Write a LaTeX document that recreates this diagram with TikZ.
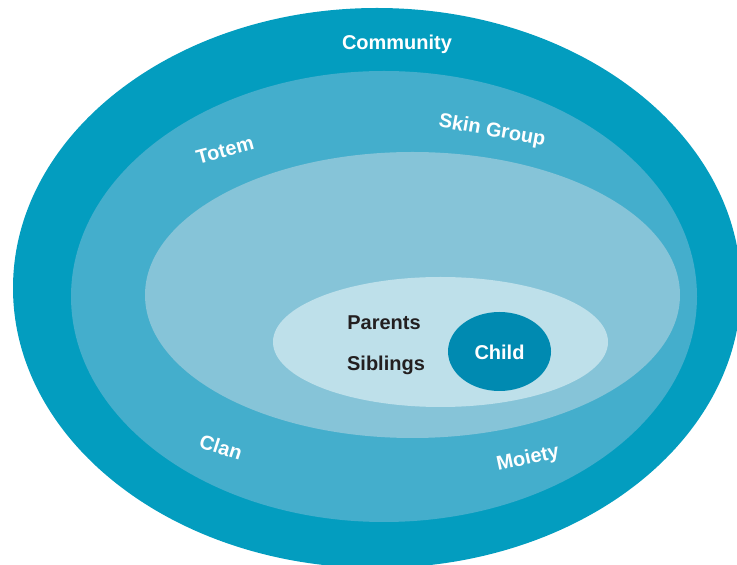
\documentclass[tikz,border=0pt]{standalone}
\usepackage{fontspec}
\setmainfont{Liberation Sans}
\usetikzlibrary{shapes.geometric}
\definecolor{ringA}{RGB}{3,157,191}
\definecolor{ringB}{RGB}{68,174,204}
\definecolor{ringC}{RGB}{134,196,216}
\definecolor{ringD}{RGB}{190,224,234}
\definecolor{childC}{RGB}{0,138,177}
\definecolor{darktext}{RGB}{35,31,32}
\tikzset{
  ring/.style={ellipse, inner sep=0pt, draw=none},
  lbl/.style={font=\bfseries\fontsize{20}{23}\selectfont, text=white, inner sep=0pt},
  dlbl/.style={lbl, text=darktext}
}
\begin{document}
\begin{tikzpicture}[x=1pt,y=1pt]
\useasboundingbox (0,0) rectangle (737,565);
\clip (0,0) rectangle (737,565);
\node[ring, fill=ringA, minimum width=728pt, minimum height=560pt] (community) at (377,277) {};
\node[ring, fill=ringB, minimum width=626pt, minimum height=451pt] (kin) at (384,268.5) {};
\node[ring, fill=ringC, minimum width=535pt, minimum height=286pt] (extended) at (412.5,270) {};
\node[ring, fill=ringD, minimum width=335pt, minimum height=130pt] (family) at (440.5,223) {};
\node[ring, fill=childC, minimum width=103pt, minimum height=79pt] (child) at (499.5,213.5) {};
\node[lbl] (tcommunity) at (397,521) {Community};
\node[lbl, rotate=-10] (tskin) at (492,434) {Skin Group};
\node[lbl, rotate=15] (ttotem) at (225,415) {Totem};
\node[lbl, rotate=-18] (tclan) at (221,118) {Clan};
\node[lbl, rotate=12] (tmoiety) at (528,106) {Moiety};
\node[dlbl] (tparents) at (384,242) {Parents};
\node[dlbl] (tsiblings) at (386,200) {Siblings};
\node[lbl] (tchild) at (499.5,213) {Child};
\end{tikzpicture}
\end{document}
